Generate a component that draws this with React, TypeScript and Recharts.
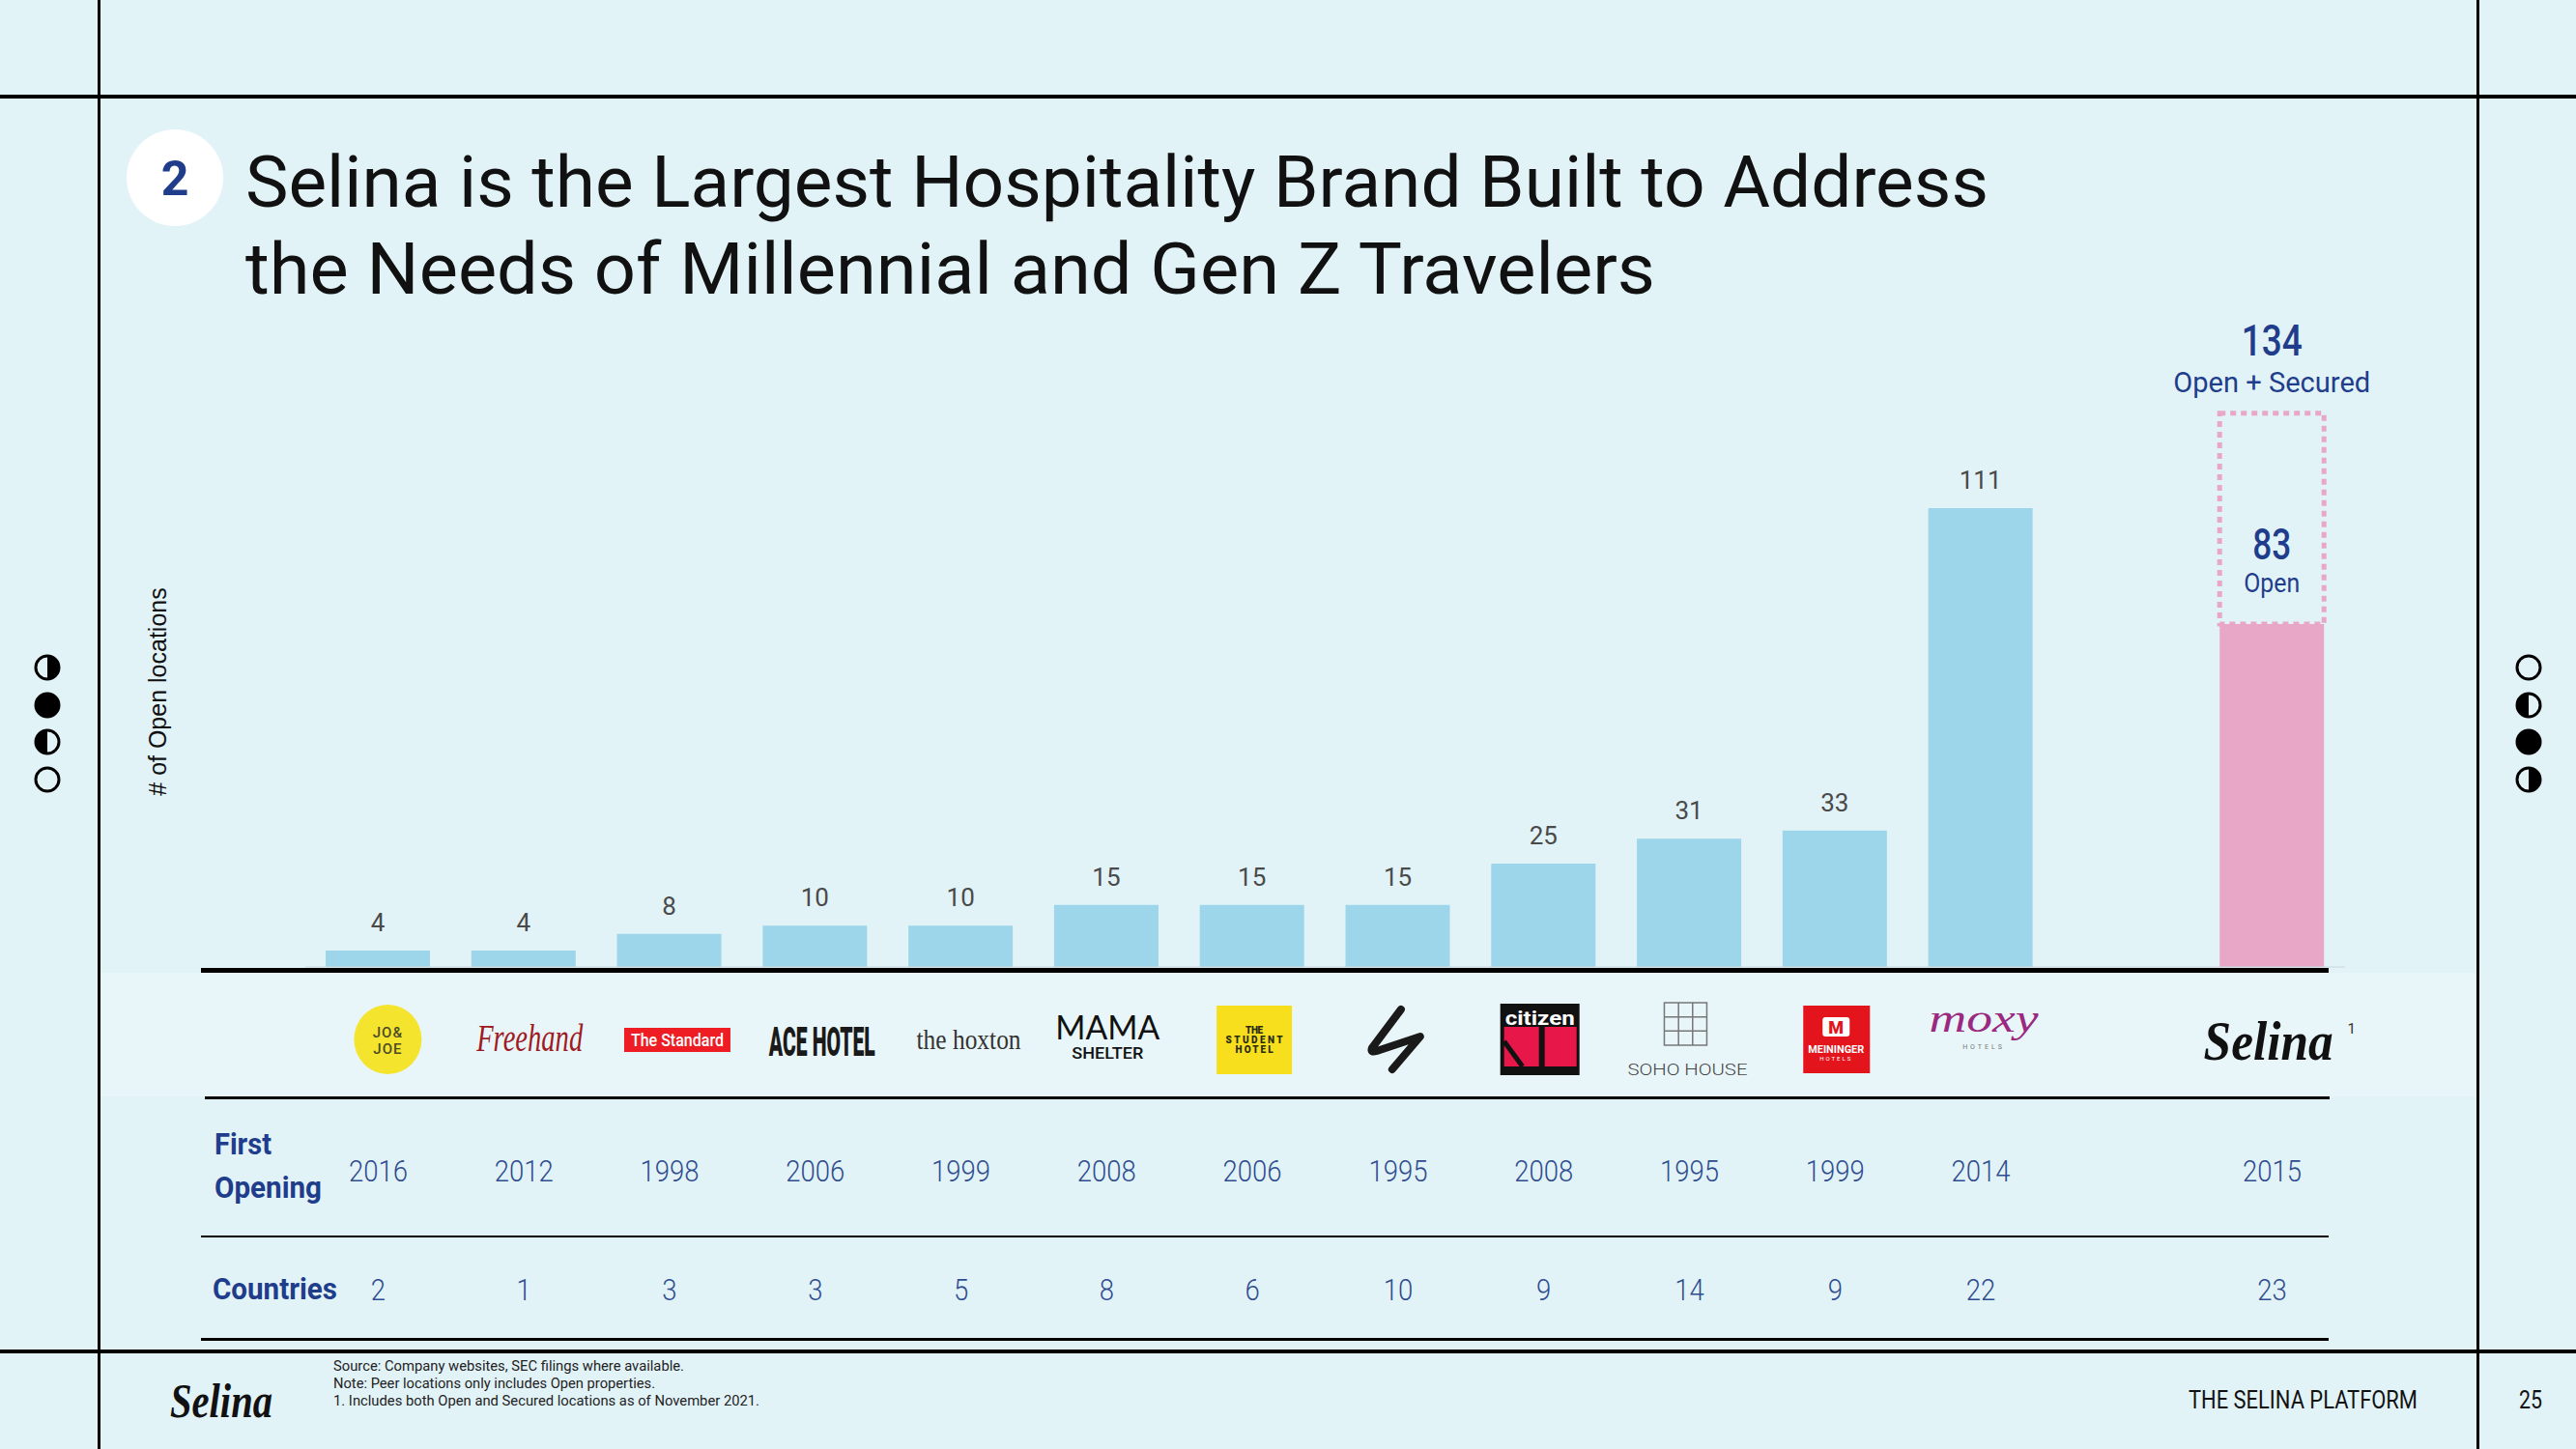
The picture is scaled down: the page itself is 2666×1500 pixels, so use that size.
import { Bar, BarChart, Cell, LabelList, XAxis, YAxis } from "recharts";

document.body.style.margin = "0";

// brands along the x axis; "(gap)" is the empty slot before Selina
const BRANDS = [
  "Joe & Joe",
  "Freehand",
  "The Standard",
  "Ace Hotel",
  "The Hoxton",
  "Mama Shelter",
  "The Student Hotel",
  "Generator",
  "citizenM",
  "Soho House",
  "Meininger",
  "Moxy",
  "(gap)",
  "Selina",
];
const OPEN_LOCATIONS = [4, 4, 8, 10, 10, 15, 15, 15, 25, 31, 33, 111, null, 83];
const SECURED_LOCATIONS = [0, 0, 0, 0, 0, 0, 0, 0, 0, 0, 0, 0, null, 51];
const FIRST_OPENING = ["2016", "2012", "1998", "2006", "1999", "2008", "2006", "1995", "2008", "1995", "1999", "2014", "", "2015"];
const COUNTRIES = ["2", "1", "3", "3", "5", "8", "6", "10", "9", "14", "9", "22", "", "23"];
const Y_DOMAIN = [0, 140];

const SELINA = "Selina";

const BG = "#e2f3f8";
const BAND = "#e9f6f9";
const BLUE = "#9dd5ea";
const PINK = "#e8a7c7";
const NAVY = "#1f3d8a";
const NAVY_LIGHT = "#2f4d8f";
const LABEL_GRAY = "#4a4a4a";

const rows = BRANDS.map((brand, i) => ({
  brand,
  open: OPEN_LOCATIONS[i],
  secured: SECURED_LOCATIONS[i],
  peerLabel: brand !== SELINA ? OPEN_LOCATIONS[i] : null,
  selinaOpen: brand === SELINA ? OPEN_LOCATIONS[i] : null,
  selinaTotal:
    brand === SELINA ? (OPEN_LOCATIONS[i] ?? 0) + (SECURED_LOCATIONS[i] ?? 0) : null,
}));

function box(p: any) {
  const vb = p.viewBox ?? {};
  return {
    x: p.x ?? vb.x,
    y: p.y ?? vb.y,
    width: p.width ?? vb.width,
  };
}

function PeerLabel(p: any) {
  if (p.value == null) return null;
  const { x, y, width } = box(p);
  return (
    <text x={x + width / 2} y={y - 20} textAnchor="middle" fontSize={26} fill={LABEL_GRAY} fontFamily="Roboto">
      {p.value}
    </text>
  );
}

function SelinaOpenLabel(p: any) {
  if (p.value == null) return null;
  const { x, y, width } = box(p);
  const cx = x + width / 2;
  return (
    <g fontFamily="Roboto" fill={NAVY} textAnchor="middle">
      <text x={cx} y={y - 67} fontSize={44} fontWeight={500} textLength={40} lengthAdjust="spacingAndGlyphs">
        {p.value}
      </text>
      <text x={cx} y={y - 33} fontSize={27} textLength={58} lengthAdjust="spacingAndGlyphs">
        Open
      </text>
    </g>
  );
}

function SelinaTotalLabel(p: any) {
  if (p.value == null) return null;
  const { x, y, width } = box(p);
  const cx = x + width / 2;
  return (
    <g fontFamily="Roboto" fill={NAVY} textAnchor="middle">
      <text x={cx} y={y - 60} fontSize={44} fontWeight={500} textLength={63} lengthAdjust="spacingAndGlyphs">
        {p.value}
      </text>
      <text x={cx} y={y - 22} fontSize={30} textLength={204} lengthAdjust="spacingAndGlyphs">
        Open + Secured
      </text>
    </g>
  );
}

function Logo({ name, x, cy }: { name: string; x: number; cy: number }) {
  switch (name) {
    case "Joe & Joe":
      return (
        <g fontFamily="Roboto" textAnchor="middle" fill="#4d4b26">
          <ellipse cx={x + 10} cy={cy} rx={35} ry={36} fill="#f4e42e" />
          <text x={x + 10} y={cy - 2} fontSize={15} fontWeight={500} letterSpacing={1}>JO&amp;</text>
          <text x={x + 10} y={cy + 15} fontSize={15} fontWeight={500} letterSpacing={1}>JOE</text>
        </g>
      );
    case "Freehand":
      return (
        <text x={x + 6} y={cy + 12} textAnchor="middle" fontFamily="'Liberation Serif', serif" fontStyle="italic"
          fontSize={40} fill="#9e1b24" textLength={110} lengthAdjust="spacingAndGlyphs">
          Freehand
        </text>
      );
    case "The Standard":
      return (
        <g>
          <rect x={x - 47} y={cy - 12} width={110} height={25} fill="#ee1d23" />
          <text x={x + 8} y={cy + 7} textAnchor="middle" fontFamily="Roboto" fontWeight={500} fontSize={19}
            fill="#fff" textLength={96} lengthAdjust="spacingAndGlyphs">
            The Standard
          </text>
        </g>
      );
    case "Ace Hotel":
      return (
        <g transform={`translate(${x + 7},${cy + 17}) scale(0.5,1)`}>
          <text x={0} y={0} textAnchor="middle" fontFamily="Roboto" fontWeight={900} fontSize={42}
            fill="#1a1a1a" textLength={220} lengthAdjust="spacingAndGlyphs">
            ACE HOTEL
          </text>
        </g>
      );
    case "The Hoxton":
      return (
        <g transform={`translate(${x + 8},${cy + 10}) scale(0.8,1)`}>
          <text x={0} y={0} textAnchor="middle" fontFamily="'Liberation Serif', serif" fontSize={30}
            fill="#333" textLength={135} lengthAdjust="spacingAndGlyphs">
            the hoxton
          </text>
        </g>
      );
    case "Mama Shelter":
      return (
        <g textAnchor="middle" fill="#111">
          <text x={x + 1} y={cy} fontFamily="Lato" fontSize={34} textLength={108} lengthAdjust="spacingAndGlyphs">
            MAMA
          </text>
          <text x={x + 1} y={cy + 20} fontFamily="Roboto" fontWeight={500} fontSize={16} textLength={74}
            lengthAdjust="spacingAndGlyphs">
            SHELTER
          </text>
        </g>
      );
    case "The Student Hotel":
      return (
        <g textAnchor="middle" fill="#2a2a10" fontFamily="Roboto" fontWeight={900} fontSize={10}>
          <rect x={x - 37} y={cy - 35} width={78} height={71} fill="#f7df1e" />
          <text x={x + 2} y={cy - 6} textLength={18} lengthAdjust="spacing">THE</text>
          <text x={x + 2} y={cy + 4} textLength={59} lengthAdjust="spacing">STUDENT</text>
          <text x={x + 2} y={cy + 14} textLength={39} lengthAdjust="spacing">HOTEL</text>
        </g>
      );
    case "Generator":
      return (
        <path
          d={`M ${x + 3} ${cy - 31} L ${x - 27} ${cy + 9} Q ${x - 29} ${cy + 14} ${x - 22} ${cy + 12} L ${x + 23} ${cy - 3} L ${x - 6} ${cy + 31}`}
          fill="none" stroke="#1a1a1a" strokeWidth={8} strokeLinecap="round" strokeLinejoin="round"
        />
      );
    case "citizenM":
      return (
        <g>
          <rect x={x - 45} y={cy - 37} width={82} height={74} fill="#111" />
          <text x={x - 4} y={cy - 15} textAnchor="middle" fontFamily="Roboto" fontWeight={700} fontSize={20}
            fill="#fff" textLength={72} lengthAdjust="spacingAndGlyphs">
            citizen
          </text>
          <rect x={x - 41} y={cy - 13} width={36} height={41} fill="#e8174a" />
          <rect x={x + 1} y={cy - 13} width={33} height={41} fill="#e8174a" />
          <line x1={x - 41} y1={cy + 2} x2={x - 22} y2={cy + 28} stroke="#111" strokeWidth={5} />
        </g>
      );
    case "Soho House": {
      const gx = x - 26;
      const gy = cy - 38;
      return (
        <g>
          <rect x={gx} y={gy} width={44} height={44} fill="none" stroke="#777" strokeWidth={1.5} />
          <line x1={gx + 14.7} y1={gy} x2={gx + 14.7} y2={gy + 44} stroke="#777" strokeWidth={1.5} />
          <line x1={gx + 29.3} y1={gy} x2={gx + 29.3} y2={gy + 44} stroke="#777" strokeWidth={1.5} />
          <line x1={gx} y1={gy + 14.7} x2={gx + 44} y2={gy + 14.7} stroke="#777" strokeWidth={1.5} />
          <line x1={gx} y1={gy + 29.3} x2={gx + 44} y2={gy + 29.3} stroke="#777" strokeWidth={1.5} />
          <text x={x - 2} y={cy + 37} textAnchor="middle" fontFamily="Roboto" fontWeight={300} fontSize={16}
            fill="#444" textLength={124} lengthAdjust="spacingAndGlyphs">
            SOHO HOUSE
          </text>
        </g>
      );
    }
    case "Meininger":
      return (
        <g textAnchor="middle" fontFamily="Roboto">
          <rect x={x - 33} y={cy - 35} width={69} height={70} fill="#e3141c" />
          <rect x={x - 13} y={cy - 23} width={28} height={20} rx={3} fill="#fff" />
          <text x={x + 1} y={cy - 6} fontSize={18} fontWeight={900} fill="#e3141c">M</text>
          <text x={x + 1} y={cy + 14} fontSize={10} fontWeight={700} fill="#fff" textLength={58}
            lengthAdjust="spacingAndGlyphs">MEININGER</text>
          <text x={x + 1} y={cy + 22} fontSize={6} fill="#fff" letterSpacing={2}>HOTELS</text>
        </g>
      );
    case "Moxy":
      return (
        <g textAnchor="middle">
          <text x={x + 3} y={cy - 8} fontFamily="'Liberation Serif', serif" fontStyle="italic" fontSize={40}
            fill="#9a2a80" textLength={113} lengthAdjust="spacingAndGlyphs">
            moxy
          </text>
          <text x={x + 3} y={cy + 10} fontFamily="Roboto" fontSize={7} fill="#777" letterSpacing={3}>HOTELS</text>
        </g>
      );
    case "Selina":
      return (
        <g>
          <text x={x - 4} y={cy + 21} textAnchor="middle" fontFamily="'Liberation Serif', serif" fontStyle="italic"
            fontWeight={700} fontSize={58} fill="#111" textLength={134} lengthAdjust="spacingAndGlyphs">
            Selina
          </text>
          <text x={x + 78} y={cy - 6} fontFamily="Roboto" fontSize={15} fill="#333">1</text>
        </g>
      );
    default:
      return null;
  }
}

function BrandTick(props: any) {
  const { x, y, payload } = props;
  const i = BRANDS.indexOf(payload.value);
  if (i < 0 || payload.value === "(gap)") return null;
  return (
    <g>
      <Logo name={payload.value} x={x} cy={y + 75} />
      <g transform={`translate(${x},${y + 222}) scale(0.86,1)`}>
        <text x={0} y={0} textAnchor="middle" fontSize={32} fontWeight={300} fill={NAVY_LIGHT} fontFamily="Roboto">
          {FIRST_OPENING[i]}
        </text>
      </g>
      <g transform={`translate(${x},${y + 345}) scale(0.86,1)`}>
        <text x={0} y={0} textAnchor="middle" fontSize={32} fontWeight={300} fill={NAVY_LIGHT} fontFamily="Roboto">
          {COUNTRIES[i]}
        </text>
      </g>
    </g>
  );
}

function Moon({ cx, cy, kind }: { cx: number; cy: number; kind: "empty" | "full" | "left" | "right" }) {
  const r = 12;
  return (
    <g>
      <circle cx={cx} cy={cy} r={r} fill={kind === "full" ? "#000" : "none"} stroke="#000" strokeWidth={3} />
      {kind === "right" && <path d={`M ${cx} ${cy - r} A ${r} ${r} 0 0 1 ${cx} ${cy + r} Z`} fill="#000" />}
      {kind === "left" && <path d={`M ${cx} ${cy - r} A ${r} ${r} 0 0 0 ${cx} ${cy + r} Z`} fill="#000" />}
    </g>
  );
}

function Decor() {
  const moonsY = [691, 730, 768, 807];
  const leftMoons: ("empty" | "full" | "left" | "right")[] = ["right", "full", "left", "empty"];
  const rightMoons: ("empty" | "full" | "left" | "right")[] = ["empty", "left", "full", "right"];
  return (
    <svg width={2666} height={1500} style={{ position: "absolute", left: 0, top: 0 }}>
      <rect x={104} y={1007} width={2458} height={128} fill={BAND} />

      {/* frame */}
      <rect x={101} y={0} width={3} height={1500} fill="#000" />
      <rect x={2563} y={0} width={3} height={1500} fill="#000" />
      <rect x={0} y={98} width={2666} height={4} fill="#000" />
      <rect x={0} y={1397} width={2666} height={4} fill="#000" />

      {moonsY.map((y, i) => (
        <Moon key={`l${i}`} cx={49} cy={y} kind={leftMoons[i]} />
      ))}
      {moonsY.map((y, i) => (
        <Moon key={`r${i}`} cx={2617} cy={y} kind={rightMoons[i]} />
      ))}

      {/* heading */}
      <circle cx={181} cy={184} r={50} fill="#fff" />
      <text x={181} y={202} textAnchor="middle" fontFamily="Roboto" fontWeight={700} fontSize={50} fill={NAVY}>
        2
      </text>
      <g fontFamily="Roboto" fontSize={75} fill="#111">
        <text x={254} y={214} textLength={1804} lengthAdjust="spacingAndGlyphs">
          Selina is the Largest Hospitality Brand Built to Address
        </text>
        <text x={254} y={304} textLength={1459} lengthAdjust="spacingAndGlyphs">
          the Needs of Millennial and Gen Z Travelers
        </text>
      </g>

      <text x={172} y={716} transform="rotate(-90 172 716)" textAnchor="middle"
        fontFamily="'Liberation Sans', Arial, sans-serif" fontSize={25} fill="#111">
        # of Open locations
      </text>

      {/* table rules */}
      <rect x={208} y={1002} width={2202} height={5} fill="#000" />
      <rect x={212} y={1135} width={2199} height={3} fill="#000" />
      <rect x={208} y={1279} width={2202} height={2} fill="#000" />
      <rect x={208} y={1385} width={2202} height={3} fill="#000" />

      <g fontFamily="Roboto" fontWeight={700} fontSize={32} fill={NAVY}>
        <text x={222} y={1195} textLength={59} lengthAdjust="spacingAndGlyphs">First</text>
        <text x={222} y={1240} textLength={111} lengthAdjust="spacingAndGlyphs">Opening</text>
        <text x={220} y={1345} textLength={129} lengthAdjust="spacingAndGlyphs">Countries</text>
      </g>

      {/* footer */}
      <text x={176} y={1467} fontFamily="'Liberation Serif', serif" fontStyle="italic" fontWeight={700}
        fontSize={50} fill="#111" textLength={106} lengthAdjust="spacingAndGlyphs">
        Selina
      </text>
      <g fontFamily="Roboto" fontSize={15.5} fill="#222">
        <text x={345} y={1419} textLength={363} lengthAdjust="spacingAndGlyphs">
          Source: Company websites, SEC filings where available.
        </text>
        <text x={345} y={1437} textLength={333} lengthAdjust="spacingAndGlyphs">
          Note: Peer locations only includes Open properties.
        </text>
        <text x={345} y={1455} textLength={441} lengthAdjust="spacingAndGlyphs">
          1. Includes both Open and Secured locations as of November 2021.
        </text>
      </g>
      <text x={2265} y={1458} fontFamily="Roboto" fontSize={25} fill="#111" textLength={237}
        lengthAdjust="spacingAndGlyphs">
        THE SELINA PLATFORM
      </text>
      <text x={2607} y={1458} fontFamily="Roboto" fontSize={25} fill="#111" textLength={24}
        lengthAdjust="spacingAndGlyphs">
        25
      </text>
    </svg>
  );
}

export default function App() {
  return (
    <div style={{ position: "relative", width: 2666, height: 1500, background: BG, overflow: "hidden" }}>
      <Decor />
      <div style={{ position: "absolute", left: 0, top: 0 }}>
        <BarChart
          width={2666}
          height={1500}
          data={rows}
          margin={{ top: 402, right: 239, bottom: 114, left: 316 }}
        >
          <YAxis hide domain={Y_DOMAIN} type="number" />
          <XAxis
            dataKey="brand"
            interval={0}
            height={385}
            tickSize={0}
            tickMargin={0}
            tickLine={false}
            axisLine={{ stroke: "#c9d6da" }}
            tick={(p: any) => <BrandTick {...p} />}
          />
          <Bar dataKey="open" stackId="s" barSize={108} isAnimationActive={false}>
            {rows.map((r) => (
              <Cell key={r.brand} fill={r.brand === SELINA ? PINK : BLUE} />
            ))}
            <LabelList dataKey="peerLabel" content={PeerLabel} />
            <LabelList dataKey="selinaOpen" content={SelinaOpenLabel} />
          </Bar>
          <Bar
            dataKey="secured"
            stackId="s"
            barSize={108}
            fill="none"
            stroke={PINK}
            strokeWidth={5}
            strokeDasharray="6 5"
            isAnimationActive={false}
          >
            <LabelList dataKey="selinaTotal" content={SelinaTotalLabel} />
          </Bar>
        </BarChart>
      </div>
    </div>
  );
}
